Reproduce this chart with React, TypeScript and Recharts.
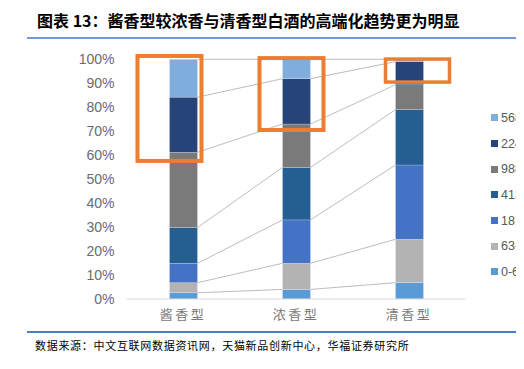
import { BarChart, Bar, XAxis, YAxis } from 'recharts'

// 价格带（元）占比，%，自下而上堆叠
const categories = ['酱香型', '浓香型', '清香型']
const seriesNames = ['0-63', '63-181', '181-413', '413-988', '988-2248', '2248-5688', '5688+']
const seriesColors = ['#5B9BD5', '#B3B3B3', '#4472C4', '#255E91', '#7A7A7A', '#264478', '#7FAEDD']

const s0_63 = [2.6, 4.0, 6.8]
const s63_181 = [4.2, 10.9, 18.1]
const s181_413 = [8.1, 18.1, 31.0]
const s413_988 = [14.9, 21.9, 23.1]
const s988_2248 = [31.4, 18.1, 10.4]
const s2248_5688 = [23.0, 18.9, 9.6]
const s5688 = [15.8, 8.1, 1.0]

const yTicks = [0, 10, 20, 30, 40, 50, 60, 70, 80, 90, 100]

// orange highlight boxes (annotation), in % and px offsets from the bar
const boxTop = [101.4, 100.5, 100.1]
const boxBottom = [57.6, 70.5, 90.5]
const boxLeft = [-32, -23, -10]
const boxRight = [4, 13, 26]

const seriesValues = [s0_63, s63_181, s181_413, s413_988, s988_2248, s2248_5688, s5688]
const keys = seriesNames.map((_, k) => 's' + k)

const data = categories.map((name, i) => {
  const row: any = { name }
  seriesValues.forEach((v, k) => (row[keys[k]] = v[i]))
  return row
})

// cumulative top of each series per category
const cumTop = seriesValues.map((_, k) =>
  categories.map((_, i) => seriesValues.slice(0, k + 1).reduce((a, v) => a + v[i], 0))
)

const W = 516
const H = 330
const M = { top: 51.3, right: 58.5, bottom: 9, left: 0 }
const Y_W = 118.5
const STEP = (W - M.left - M.right - Y_W) / categories.length

const makeShape = (k: number) => (props: any) => {
  const { x, y, width, height, index } = props
  const seg = seriesValues[k][index]
  const ppu = height / seg
  const yOf = (c: number) => y + (cumTop[k][index] - c) * ppu
  const last = k === seriesValues.length - 1
  return (
    <g>
      <rect x={x} y={y} width={width} height={height} fill={seriesColors[k]} stroke="#ffffff" strokeOpacity={0.35} strokeWidth={0.6} />
      {index < categories.length - 1 && (
        <line
          x1={x + width}
          y1={y}
          x2={x + STEP}
          y2={yOf(cumTop[k][index + 1])}
          stroke="#BDBDBD"
          strokeWidth={1}
        />
      )}
      {last && (
        <rect
          x={x + boxLeft[index]}
          y={yOf(boxTop[index])}
          width={width - boxLeft[index] + boxRight[index]}
          height={(boxTop[index] - boxBottom[index]) * ppu}
          fill="none"
          stroke="#ED7D31"
          strokeWidth={index === 2 ? 3.5 : 4}
        />
      )}
    </g>
  )
}

const XTick = (props: any) => {
  const { x, y, payload } = props
  return (
    <text x={x} y={y + 12} textAnchor="middle" fill="#7A7A7A" fontSize={13} letterSpacing={2.5}
      fontFamily="'Noto Sans CJK SC', sans-serif">
      {payload.value}
    </text>
  )
}

export default function App() {
  return (
    <div style={{ position: 'relative', width: W, height: 353, overflow: 'hidden', background: '#fff' }}>
      <div style={{
        position: 'absolute', left: 29, top: 4, fontSize: 16, lineHeight: '16px', fontWeight: 700,
        fontFamily: "'Noto Sans CJK SC', sans-serif", color: '#000', whiteSpace: 'nowrap',
      }}>
        图表 13：酱香型较浓香与清香型白酒的高端化趋势更为明显
      </div>
      <div style={{ position: 'absolute', left: 19, top: 29, width: W - 19, height: 2, background: '#6F9BD6' }} />

      <div style={{ position: 'absolute', left: 0, top: 0 }}>
        <BarChart width={W} height={H} data={data} margin={M} barSize={28}>
          <XAxis
            dataKey="name"
            axisLine={{ stroke: '#D9D9D9' }}
            tickLine={false}
            height={30}
            tick={<XTick />}
          />
          <YAxis
            domain={[0, 100]}
            ticks={yTicks}
            width={Y_W}
            axisLine={false}
            tickLine={false}
            tickMargin={6}
            tickFormatter={(v: number) => `${v}%`}
            tick={{ fill: '#6B6B6B', fontSize: 14, fontFamily: "'Liberation Sans', Arial, sans-serif" }}
            interval={0}
          />
          {keys.map((key, k) => (
            <Bar key={key} dataKey={key} stackId="a" fill={seriesColors[k]} isAnimationActive={false} shape={makeShape(k)} />
          ))}
        </BarChart>
      </div>

      <div style={{ position: 'absolute', left: 483, top: 97, fontFamily: "'Liberation Sans', Arial, sans-serif" }}>
        {seriesNames.map((n, k) => ({ n, c: seriesColors[k] })).reverse().map(item => (
          <div key={item.n} style={{ display: 'flex', alignItems: 'center', height: 25.7, whiteSpace: 'nowrap' }}>
            <span style={{ width: 7, height: 7, background: item.c, marginRight: 3 }} />
            <span style={{ fontSize: 12.5, color: '#595959' }}>{item.n}</span>
          </div>
        ))}
      </div>

      <div style={{ position: 'absolute', left: 19, top: 323, width: W - 19, height: 1.5, background: '#4A7EC2' }} />
      <div style={{
        position: 'absolute', left: 27, top: 331, fontSize: 11, lineHeight: '12px', letterSpacing: 0.7,
        fontFamily: "'Noto Sans CJK SC', sans-serif", color: '#000', whiteSpace: 'nowrap',
      }}>
        数据来源：中文互联网数据资讯网，天猫新品创新中心，华福证券研究所
      </div>
    </div>
  )
}
